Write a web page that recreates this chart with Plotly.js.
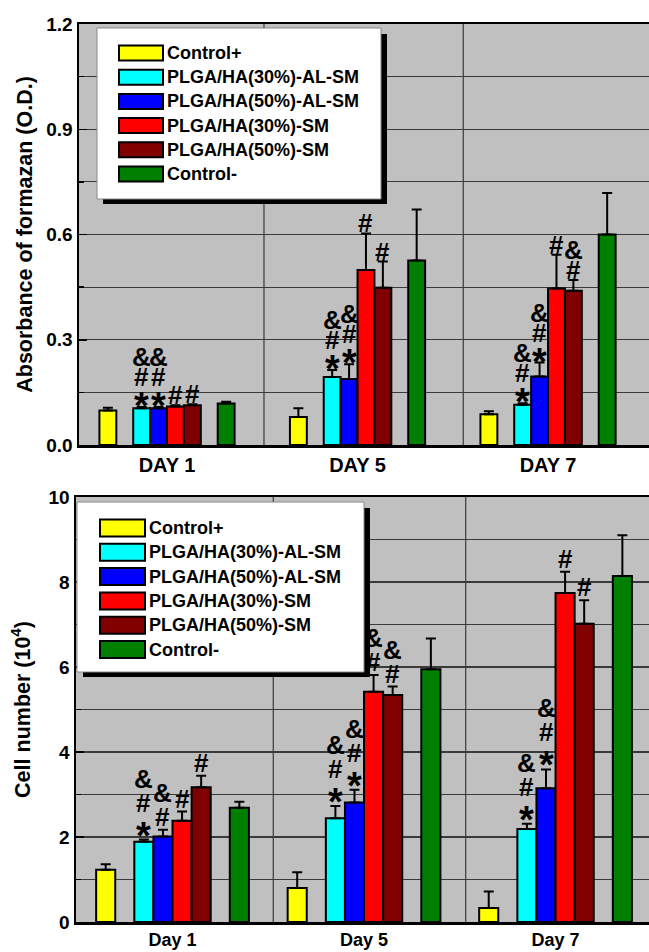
<!DOCTYPE html>
<html>
<head>
<meta charset="utf-8">
<script src="https://cdn.plot.ly/plotly-3.0.1.min.js"></script>
<style>html,body{margin:0;padding:0;background:#fff;}#chart{width:649px;height:952px;}</style>
</head>
<body>
<div id="chart"></div>
<script>
// ---------- DATA ----------
const seriesNames = ['Control+', 'PLGA/HA(30%)-AL-SM', 'PLGA/HA(50%)-AL-SM', 'PLGA/HA(30%)-SM', 'PLGA/HA(50%)-SM', 'Control-'];
const seriesColors = ['#ffff00', '#00ffff', '#0000ff', '#ff0000', '#800000', '#008000'];
const daysTop = ['DAY 1', 'DAY 5', 'DAY 7'];
const daysBottom = ['Day 1', 'Day 5', 'Day 7'];

// Top chart: absorbance of formazan (O.D.)
const odControlPlus  = [0.098, 0.080, 0.088];
const odPLGA30AL     = [0.105, 0.194, 0.115];
const odPLGA50AL     = [0.105, 0.188, 0.195];
const odPLGA30SM     = [0.110, 0.499, 0.446];
const odPLGA50SM     = [0.113, 0.448, 0.440];
const odControlMinus = [0.118, 0.526, 0.600];
const odErrControlPlus  = [0.008, 0.025, 0.008];
const odErrPLGA30AL     = [0.003, 0.020, 0.004];
const odErrPLGA50AL     = [0.003, 0.042, 0.040];
const odErrPLGA30SM     = [0.003, 0.104, 0.096];
const odErrPLGA50SM     = [0.003, 0.075, 0.030];
const odErrControlMinus = [0.005, 0.145, 0.118];
// significance marks, top-to-bottom
const odMarks = [
  ['', '', ''],
  ['&#*', '&#*', '&#*'],
  ['&#*', '&#*', '&#*'],
  ['#', '#', '#'],
  ['#', '#', '&#'],
  ['', '', '']
];

// Bottom chart: cell number (10^4)
const cellControlPlus  = [1.23, 0.80, 0.33];
const cellPLGA30AL     = [1.89, 2.44, 2.19];
const cellPLGA50AL     = [2.01, 2.81, 3.15];
const cellPLGA30SM     = [2.38, 5.42, 7.74];
const cellPLGA50SM     = [3.17, 5.34, 7.02];
const cellControlMinus = [2.69, 5.95, 8.14];
const cellErrControlPlus  = [0.13, 0.37, 0.39];
const cellErrPLGA30AL     = [0.05, 0.29, 0.12];
const cellErrPLGA50AL     = [0.16, 0.30, 0.44];
const cellErrPLGA30SM     = [0.22, 0.39, 0.50];
const cellErrPLGA50SM     = [0.27, 0.20, 0.55];
const cellErrControlMinus = [0.14, 0.72, 0.96];
const cellMarks = [
  ['', '', ''],
  ['&#*', '&#*', '&#*'],
  ['&#', '&#*', '&#*'],
  ['#', '&#', '#'],
  ['#', '&#', '#'],
  ['', '', '']
];

// ---------- LAYOUT HELPERS ----------
const FONT = 'Liberation Sans, Arial, sans-serif';
const W = 649, H = 952;
const M = {l: 76, r: 0, t: 24, b: 30};
const PW = W - M.l - M.r, PH = H - M.t - M.b;
const px2x = px => (px - M.l) / PW;
const px2y = py => (H - M.b - py) / PH;

const slots = [0, 2, 3, 4, 5, 7];   // bar slot inside a group
const slotCenter = 3.5;
const barWTop = 0.0887, barWBot = 0.0997;

const odVals = [odControlPlus, odPLGA30AL, odPLGA50AL, odPLGA30SM, odPLGA50SM, odControlMinus];
const odErrs = [odErrControlPlus, odErrPLGA30AL, odErrPLGA50AL, odErrPLGA30SM, odErrPLGA50SM, odErrControlMinus];
const cellVals = [cellControlPlus, cellPLGA30AL, cellPLGA50AL, cellPLGA30SM, cellPLGA50SM, cellControlMinus];
const cellErrs = [cellErrControlPlus, cellErrPLGA30AL, cellErrPLGA50AL, cellErrPLGA30SM, cellErrPLGA50SM, cellErrControlMinus];

const traces = [];
const annotations = [];
const shapes = [];

function addChart(vals, errs, marks, barW, xa, ya, d0, step) {
  vals.forEach((v, s) => {
    const xs = v.map((_, i) => i + (slots[s] - slotCenter) * barW);
    traces.push({
      type: 'bar', x: xs, y: v, width: barW, xaxis: xa, yaxis: ya,
      name: seriesNames[s], showlegend: false, hoverinfo: 'skip',
      marker: {color: seriesColors[s], line: {color: '#000', width: 2}},
      error_y: {type: 'data', symmetric: false, array: errs[s], arrayminus: v.map(() => 0),
                color: '#000', thickness: 2, width: 5}
    });
    v.forEach((val, i) => {
      const chars = Array.from(marks[s][i]);
      const n = chars.length;
      chars.forEach((ch, k) => {
        const level = n - 1 - k;
        annotations.push({
          xref: xa, yref: ya, x: xs[i], y: val + errs[s][i],
          text: ch, showarrow: false, xanchor: 'center', yanchor: 'middle',
          yshift: d0 + level * step - (ch === '*' ? 9 : 0),
          font: {family: FONT, size: ch === '*' ? 38 : 26, color: '#000', weight: 'bold'}
        });
      });
    });
  });
}
addChart(odVals, odErrs, odMarks, barWTop, 'x', 'y', 10, 20);
addChart(cellVals, cellErrs, cellMarks, barWBot, 'x2', 'y2', 13, 24);

// vertical separators (group dividers)
const sepTop = [0.509, 1.555], sepBot = [0.526, 1.531];
sepTop.forEach(v => shapes.push({type: 'line', xref: 'x', yref: 'y domain', x0: v, x1: v, y0: 0, y1: 1,
  line: {color: '#3a3a3a', width: 1.2}, layer: 'below'}));
sepBot.forEach(v => shapes.push({type: 'line', xref: 'x2', yref: 'y2 domain', x0: v, x1: v, y0: 0, y1: 1,
  line: {color: '#3a3a3a', width: 1.2}, layer: 'below'}));

// custom legends
function addLegend(box, shadow, swX0, swX1, swH, textX, row0, rowStep, fsize) {
  shapes.push({type: 'rect', xref: 'paper', yref: 'paper',
    x0: px2x(box[0] + shadow), x1: px2x(box[1] + shadow), y0: px2y(box[3] + shadow - 1), y1: px2y(box[2] + shadow),
    fillcolor: '#000', line: {width: 0}, layer: 'above'});
  shapes.push({type: 'rect', xref: 'paper', yref: 'paper',
    x0: px2x(box[0]), x1: px2x(box[1]), y0: px2y(box[3]), y1: px2y(box[2]),
    fillcolor: '#fff', line: {color: '#888', width: 1}, layer: 'above'});
  seriesNames.forEach((nm, s) => {
    const cy = row0 + s * rowStep;
    shapes.push({type: 'rect', xref: 'paper', yref: 'paper',
      x0: px2x(swX0), x1: px2x(swX1), y0: px2y(cy + swH / 2), y1: px2y(cy - swH / 2),
      fillcolor: seriesColors[s], line: {color: '#000', width: 2}, layer: 'above'});
    annotations.push({xref: 'paper', yref: 'paper', x: px2x(textX), y: px2y(cy),
      xanchor: 'left', yanchor: 'middle', showarrow: false, text: nm,
      font: {family: FONT, size: fsize, color: '#000', weight: 'bold'}});
  });
}
addLegend([97, 381, 28, 199], 6, 119, 163, 15, 165, 53, 24.2, 18);
addLegend([77, 364, 502, 672], 6, 100, 145, 17, 147, 528, 24.3, 18);

const gridC = '#3a3a3a';
const yTickFont = {family: FONT, size: 19, color: '#000', weight: 'bold'};
const xTickFontTop = {family: FONT, size: 20, color: '#000', weight: 'bold'};
const xTickFontBot = {family: FONT, size: 18, color: '#000', weight: 'bold'};
const titleFont = {family: FONT, size: 21.5, color: '#000', weight: 'bold'};

const layout = {
  width: W, height: H, margin: M,
  paper_bgcolor: '#fff', plot_bgcolor: '#c0c0c0',
  showlegend: false, bargap: 0,
  font: {family: FONT},
  xaxis: {domain: [px2x(79), 1], anchor: 'y', range: [-0.462, 2.530],
    tickvals: [0, 1, 2], ticktext: daysTop, ticks: '', showgrid: false, zeroline: false,
    showline: true, mirror: true, linecolor: '#000', linewidth: 2.5, tickfont: xTickFontTop},
  yaxis: {domain: [px2y(445), 1], anchor: 'x', range: [0, 1.2],
    tickvals: [0, 0.3, 0.6, 0.9, 1.2], ticktext: ['0.0', '0.3', '0.6', '0.9', '1.2'],
    ticks: 'inside', ticklen: 8, tickwidth: 1.5, tickcolor: '#000',
    showgrid: true, gridcolor: gridC, gridwidth: 1.2, zeroline: false,
    minor: {dtick: 0.15, tick0: 0, showgrid: true, gridcolor: gridC, gridwidth: 1.2, ticks: 'inside', ticklen: 5, tickcolor: '#000'},
    showline: true, mirror: false, linecolor: '#000', linewidth: 2.5, tickfont: yTickFont,
    title: {text: 'Absorbance of formazan (O.D.)', font: titleFont, standoff: 8}},
  xaxis2: {domain: [0, 1], anchor: 'y2', range: [-0.504, 2.488],
    tickvals: [0, 1, 2], ticktext: daysBottom, ticks: '', showgrid: false, zeroline: false,
    showline: true, mirror: true, linecolor: '#000', linewidth: 2.5, tickfont: xTickFontBot},
  yaxis2: {domain: [0, px2y(497)], anchor: 'x2', range: [0, 10], dtick: 2, tick0: 0,
    ticks: 'inside', ticklen: 8, tickwidth: 1.5, tickcolor: '#000',
    showgrid: true, gridcolor: gridC, gridwidth: 1.2, zeroline: false,
    minor: {dtick: 1, tick0: 0, showgrid: true, gridcolor: gridC, gridwidth: 1.2, ticks: 'inside', ticklen: 5, tickcolor: '#000'},
    showline: true, mirror: false, linecolor: '#000', linewidth: 2.5, tickfont: yTickFont,
    title: {text: 'Cell number (10<sup>4</sup>)', font: titleFont, standoff: 12}},
  shapes: shapes,
  annotations: annotations
};

Plotly.newPlot('chart', traces, layout, {displayModeBar: false, staticPlot: true});
</script>
</body>
</html>
